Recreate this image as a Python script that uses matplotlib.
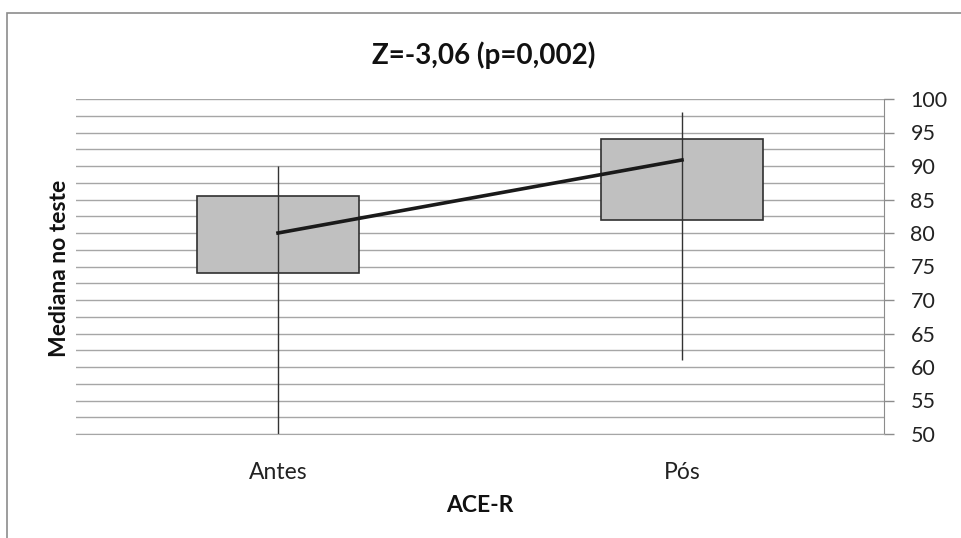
from matplotlib import pyplot as plt
from matplotlib.patches import Rectangle

# ACE-R scores before / after
categories = ["Antes", "Pós"]
whisker_low = [50, 61]
whisker_high = [90, 98]
box_low = [74, 82]
box_high = [85.5, 94]
medians = [80, 90.9]

fig = plt.figure(figsize=(9.61, 5.38), dpi=100)
plt.rcParams['font.family'] = ['Lato', 'DejaVu Sans']

# chart frame (left + top only visible in the original crop)
fig.patches.append(Rectangle((7/961, -0.1), 1.2, 1 - 13/538 + 0.1, transform=fig.transFigure,
                             fill=False, edgecolor='#8c8c8c', linewidth=1.2, zorder=0))

ax = fig.add_axes([76/961, 1 - 434/538, 808/961, 335/538])

x = list(range(len(categories)))
box_w = 0.4
for i in x:
    ax.vlines(i, whisker_low[i], whisker_high[i], color='#333333', linewidth=1, zorder=2)
    ax.add_patch(Rectangle((i - box_w/2, box_low[i]), box_w, box_high[i] - box_low[i],
                           facecolor='#c0c0c0', edgecolor='#303030', linewidth=1.2, zorder=1))
ax.plot(x, medians, color='#1a1a1a', linewidth=2.6, zorder=3)

ax.set_xlim(-0.5, 1.5)
ax.set_ylim(50, 100)
ax.set_yticks(range(50, 101, 5))
ax.set_yticks([50 + 2.5*k for k in range(21)], minor=True)
ax.yaxis.tick_right()
ax.grid(axis='y', which='both', color='#a6a6a6', linewidth=1, zorder=0)
ax.set_axisbelow(True)
ax.set_xticks(x)
ax.set_xticklabels(categories, fontsize=16.5, color='#222222')
ax.tick_params(axis='x', length=0, pad=20)
ax.tick_params(axis='y', which='major', length=7, width=1, color='#8c8c8c', labelsize=15.5,
               labelcolor='#222222', pad=12)
ax.tick_params(axis='y', which='minor', length=0)

for s in ['top', 'left']:
    ax.spines[s].set_visible(False)
ax.spines['right'].set_color('#8c8c8c')
ax.spines['bottom'].set_color('#a6a6a6')

fig.text(484/961, 1 - 55/538, "Z=-3,06 (p=0,002)", fontsize=20, fontweight='bold',
         ha='center', va='center', color='#111111')
fig.text(60/961, 1 - 268/538, "Mediana no teste", fontsize=16.5, fontweight='bold',
         rotation=90, ha='center', va='center', color='#111111')
fig.text(480/961, 1 - 505/538, "ACE-R", fontsize=16.5, fontweight='bold',
         ha='center', va='center', color='#111111')

fig.savefig("out.png", dpi=100)
